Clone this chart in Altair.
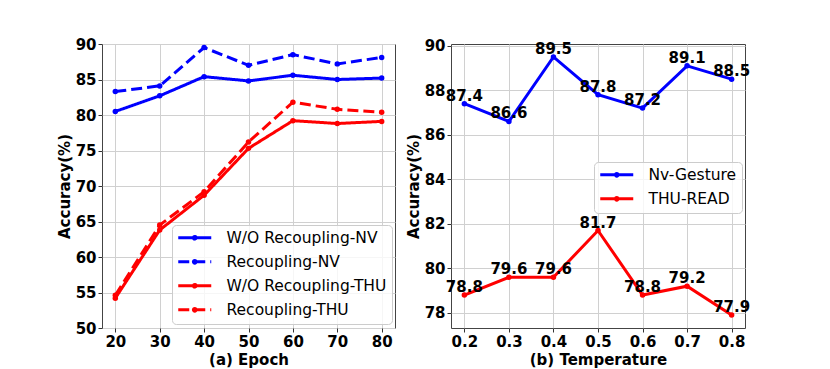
import altair as alt
import pandas as pd

# ---------------- data ----------------
epochs = [20, 30, 40, 50, 60, 70, 80]
wo_nv = [80.5, 82.7, 85.4, 84.8, 85.6, 85.0, 85.2]
re_nv = [83.3, 84.1, 89.5, 87.0, 88.5, 87.2, 88.1]
wo_thu = [54.2, 63.8, 68.7, 75.3, 79.2, 78.8, 79.1]
re_thu = [54.6, 64.5, 69.2, 76.2, 81.8, 80.8, 80.4]
left_series = ["W/O Recoupling-NV", "Recoupling-NV", "W/O Recoupling-THU", "Recoupling-THU"]
left_y_ticks = [50, 55, 60, 65, 70, 75, 80, 85, 90]

temps = [0.2, 0.3, 0.4, 0.5, 0.6, 0.7, 0.8]
nv_gesture = [87.4, 86.6, 89.5, 87.8, 87.2, 89.1, 88.5]
thu_read = [78.8, 79.6, 79.6, 81.7, 78.8, 79.2, 77.9]
right_series = ["Nv-Gesture", "THU-READ"]
right_y_ticks = [78, 80, 82, 84, 86, 88, 90]

BLUE = "#0000ff"
RED = "#ff0000"
FONT = "DejaVu Sans"
SYMBOL = "M-3,0L3,0M0.25,0A0.25,0.25,0,1,1,-0.25,0A0.25,0.25,0,1,1,0.25,0Z"

rows = []
for name, vals in zip(left_series, [wo_nv, re_nv, wo_thu, re_thu]):
    for e, v in zip(epochs, vals):
        rows.append({"epoch": e, "acc": v, "series": name})
df_left = pd.DataFrame(rows)

rows = []
for name, vals in zip(right_series, [nv_gesture, thu_read]):
    for t, v in zip(temps, vals):
        rows.append({"temp": t, "acc": v, "series": name})
df_right = pd.DataFrame(rows)


def legend(x, y):
    return alt.Legend(
        title=None, orient="none", legendX=x, legendY=y,
        symbolType=SYMBOL, symbolSize=121, symbolStrokeWidth=3, symbolOffset=10,
        labelFont=FONT, labelFontSize=15.5, labelFontWeight="normal",
        labelColor="black", labelOffset=24, labelLimit=400,
        rowPadding=7, padding=5, strokeColor="#cccccc",
        fillColor="rgba(255,255,255,0.8)", cornerRadius=4,
    )


# ---------------- left panel ----------------
lc_scale = alt.Scale(domain=left_series, range=[BLUE, BLUE, RED, RED])
ld_scale = alt.Scale(domain=left_series, range=[[1, 0], [11, 5], [1, 0], [11, 5]])
lx = alt.X("epoch:Q", scale=alt.Scale(domain=[17, 83], nice=False, zero=False),
           axis=alt.Axis(values=epochs, title="(a) Epoch"))
ly = alt.Y("acc:Q", scale=alt.Scale(domain=[50, 90], nice=False, zero=False),
           axis=alt.Axis(values=left_y_ticks, title="Accuracy(%)"))

left_base = alt.Chart(df_left)
left_lines = left_base.mark_line(strokeWidth=3).encode(
    x=lx, y=ly,
    color=alt.Color("series:N", scale=lc_scale, legend=legend(70, 181), sort=left_series),
    strokeDash=alt.StrokeDash("series:N", scale=ld_scale, legend=legend(70, 181), sort=left_series),
)
left_points = left_base.mark_point(filled=True, size=30, opacity=1).encode(
    x=lx, y=ly,
    color=alt.Color("series:N", scale=lc_scale, legend=None),
)
left = alt.layer(left_lines, left_points).properties(width=293, height=284)

# ---------------- right panel ----------------
rc_scale = alt.Scale(domain=right_series, range=[BLUE, RED])
rx = alt.X("temp:Q", scale=alt.Scale(domain=[0.17, 0.83], nice=False, zero=False),
           axis=alt.Axis(values=temps, format=".1f", title="(b) Temperature"))
ry = alt.Y("acc:Q", scale=alt.Scale(domain=[77.32, 90.08], nice=False, zero=False),
           axis=alt.Axis(values=right_y_ticks, title="Accuracy(%)"))

right_base = alt.Chart(df_right)
right_lines = right_base.mark_line(strokeWidth=3).encode(
    x=rx, y=ry,
    color=alt.Color("series:N", scale=rc_scale, legend=legend(143, 118), sort=right_series),
)
right_points = right_base.mark_point(filled=True, size=30, opacity=1).encode(
    x=rx, y=ry, color=alt.Color("series:N", scale=rc_scale, legend=None),
)
right_text = right_base.mark_text(
    font=FONT, fontSize=15, fontWeight="bold", baseline="alphabetic",
    align="center", dy=-3, color="black",
).encode(x=rx, y=ry, text=alt.Text("acc:Q", format=".1f"))
right = alt.layer(right_lines, right_points, right_text).properties(width=294, height=284)

chart = (
    alt.hconcat(left, right, spacing=9)
    .resolve_scale(color="independent", strokeDash="independent")
    .resolve_legend(color="independent", strokeDash="independent")
    .properties(padding={"left": 48, "top": 28, "right": 5, "bottom": 0})
    .configure(font=FONT)
    .configure_view(stroke="#444444", strokeWidth=1)
    .configure_axis(
        domain=False, grid=True, gridColor="#d0d0d0", gridWidth=1,
        tickSize=4, tickColor="#333333", tickWidth=1,
        labelFont=FONT, labelFontSize=15, labelFontWeight="bold", labelColor="black",
        labelPadding=2, titleFont=FONT, titleFontSize=15, titleFontWeight="bold",
        titleColor="black", titlePadding=3, labelFlush=False,
    )
)

chart.save("out.html", embed_options={"renderer": "svg", "actions": False})
